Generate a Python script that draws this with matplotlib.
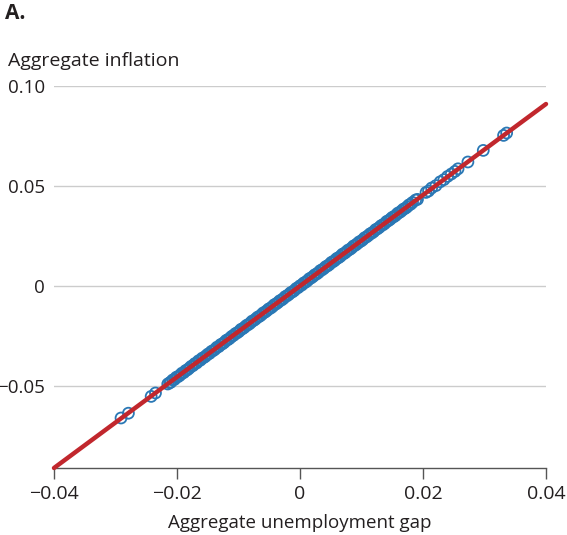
import matplotlib
matplotlib.use("Agg")
import matplotlib.pyplot as plt

plt.rcParams["font.family"] = ["Open Sans", "DejaVu Sans"]

# Aggregate unemployment gap vs aggregate inflation (simulated economy)
gap = [
    -0.0291, -0.0279, -0.0242, -0.0235, -0.0215, -0.0212,
    -0.0210, -0.0207, -0.0204, -0.0201, -0.0198, -0.0195, -0.0192, -0.0189,
    -0.0186, -0.0183, -0.0180, -0.0177, -0.0174, -0.0171, -0.0168, -0.0165,
    -0.0162, -0.0159, -0.0156, -0.0153, -0.0150, -0.0147, -0.0144, -0.0141,
    -0.0138, -0.0135, -0.0132, -0.0129, -0.0126, -0.0123, -0.0120, -0.0117,
    -0.0114, -0.0111, -0.0108, -0.0105, -0.0102, -0.0099, -0.0096, -0.0093,
    -0.0090, -0.0087, -0.0084, -0.0081, -0.0078, -0.0075, -0.0072, -0.0069,
    -0.0066, -0.0063, -0.0060, -0.0057, -0.0054, -0.0051, -0.0048, -0.0045,
    -0.0042, -0.0039, -0.0036, -0.0033, -0.0030, -0.0027, -0.0024, -0.0021,
    -0.0018, -0.0015, -0.0012, -0.0009, -0.0006, -0.0003, 0.0000, 0.0003,
    0.0006, 0.0009, 0.0012, 0.0015, 0.0018, 0.0021, 0.0024, 0.0027,
    0.0030, 0.0033, 0.0036, 0.0039, 0.0042, 0.0045, 0.0048, 0.0051,
    0.0054, 0.0057, 0.0060, 0.0063, 0.0066, 0.0069, 0.0072, 0.0075,
    0.0078, 0.0081, 0.0084, 0.0087, 0.0090, 0.0093, 0.0096, 0.0099,
    0.0102, 0.0105, 0.0108, 0.0111, 0.0114, 0.0117, 0.0120, 0.0123,
    0.0126, 0.0129, 0.0132, 0.0135, 0.0138, 0.0141, 0.0144, 0.0147,
    0.0150, 0.0153, 0.0156, 0.0159, 0.0162, 0.0165, 0.0168, 0.0171,
    0.0174, 0.0177, 0.0180,
    0.0183, 0.0188, 0.0191, 0.0205, 0.0209, 0.0214, 0.0221, 0.0228,
    0.0234, 0.0240, 0.0246, 0.0252, 0.0257, 0.0273, 0.0298, 0.0331, 0.0336,
]
inflation = [
    -0.0660, -0.0636, -0.0552, -0.0535, -0.0490, -0.0484,
    -0.0481, -0.0470, -0.0467, -0.0456, -0.0453, -0.0446, -0.0436, -0.0433,
    -0.0423, -0.0419, -0.0411, -0.0402, -0.0398, -0.0388, -0.0385, -0.0374,
    -0.0371, -0.0361, -0.0357, -0.0350, -0.0341, -0.0337, -0.0327, -0.0323,
    -0.0316, -0.0306, -0.0303, -0.0293, -0.0289, -0.0282, -0.0272, -0.0268,
    -0.0261, -0.0252, -0.0247, -0.0238, -0.0234, -0.0227, -0.0217, -0.0213,
    -0.0206, -0.0197, -0.0193, -0.0186, -0.0176, -0.0172, -0.0165, -0.0156,
    -0.0152, -0.0145, -0.0135, -0.0131, -0.0124, -0.0115, -0.0111, -0.0104,
    -0.0094, -0.0090, -0.0083, -0.0074, -0.0070, -0.0063, -0.0053, -0.0049,
    -0.0042, -0.0033, -0.0029, -0.0022, -0.0012, -0.0008, 0.0001, 0.0005,
    0.0015, 0.0019, 0.0026, 0.0036, 0.0040, 0.0047, 0.0056, 0.0060,
    0.0067, 0.0077, 0.0081, 0.0088, 0.0097, 0.0101, 0.0108, 0.0118,
    0.0122, 0.0129, 0.0138, 0.0142, 0.0149, 0.0159, 0.0163, 0.0170,
    0.0179, 0.0183, 0.0190, 0.0200, 0.0204, 0.0211, 0.0220, 0.0224,
    0.0231, 0.0241, 0.0245, 0.0252, 0.0261, 0.0265, 0.0272, 0.0282,
    0.0286, 0.0293, 0.0302, 0.0306, 0.0313, 0.0323, 0.0327, 0.0334,
    0.0343, 0.0347, 0.0354, 0.0364, 0.0368, 0.0375, 0.0384, 0.0388,
    0.0395, 0.0405, 0.0409,
    0.0418, 0.0430, 0.0433, 0.0468, 0.0475, 0.0490, 0.0502, 0.0521,
    0.0532, 0.0548, 0.0560, 0.0573, 0.0586, 0.0620, 0.0678, 0.0753, 0.0765,
]

# Fitted relationship
fit_x = [-0.04, 0.04]
fit_y = [-0.091, 0.091]

x_ticks = [-0.04, -0.02, 0, 0.02, 0.04]
x_labels = ["\u22120.04", "\u22120.02", "0", "0.02", "0.04"]
y_ticks = [-0.05, 0, 0.05, 0.10]
y_labels = ["\u22120.05", "0", "0.05", "0.10"]

FS = 14
TXT = "#231f20"

fig = plt.figure(figsize=(5.67, 5.35), dpi=100)
ax = fig.add_axes([54 / 567, 1 - 468 / 535, 492 / 567, (468 - 86) / 535])

ax.scatter(gap, inflation, s=62, facecolors="none", edgecolors="#2a78b5",
           linewidths=1.3, zorder=3, clip_on=False)
ax.plot(fit_x, fit_y, color="#c1272d", lw=3.2, solid_capstyle="round",
        zorder=4, clip_on=False)

ax.set_xlim(-0.04, 0.04)
ax.set_ylim(-0.091, 0.10)
ax.set_xticks(x_ticks)
ax.set_xticklabels(x_labels)
ax.set_yticks(y_ticks)
ax.set_yticklabels(y_labels)

for s in ("top", "right", "left"):
    ax.spines[s].set_visible(False)
ax.spines["bottom"].set_color("#555555")
ax.spines["bottom"].set_linewidth(1.0)

ax.grid(axis="y", color="#cccccc", lw=1.0, zorder=0)
ax.set_axisbelow(True)
ax.tick_params(axis="x", length=8, width=1.0, color="#555555",
               labelsize=FS, pad=4, labelcolor=TXT)
ax.tick_params(axis="y", length=0, labelsize=13.5, pad=6.5, labelcolor=TXT)

ax.set_xlabel("Aggregate unemployment gap", fontsize=13.5, color=TXT,
              labelpad=8)

fig.text(8 / 567, 1 - 66 / 535, "Aggregate inflation", fontsize=FS,
         color=TXT, ha="left", va="baseline")
fig.text(5 / 567, 1 - 19 / 535, "A.", fontsize=15, fontweight="bold",
         color=TXT, ha="left", va="baseline")

fig.savefig("out.png", dpi=100)
